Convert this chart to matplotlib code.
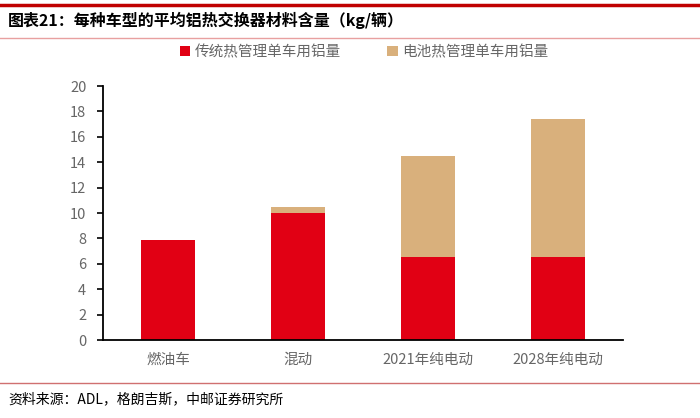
import matplotlib
matplotlib.use('Agg')
import matplotlib.pyplot as plt
import numpy as np

plt.rcParams['font.family'] = ['Noto Sans CJK SC', 'DejaVu Sans']

categories = ['燃油车', '混动', '2021年纯电动', '2028年纯电动']
traditional = [7.9, 10.0, 6.5, 6.5]
battery = [0.0, 0.5, 8.0, 10.9]
series_names = ['传统热管理单车用铝量', '电池热管理单车用铝量']
y_ticks = [0, 2, 4, 6, 8, 10, 12, 14, 16, 18, 20]

title = '图表21：每种车型的平均铝热交换器材料含量（kg/辆）'
source = '资料来源：ADL，格朗吉斯，中邮证券研究所'

red = '#E10014'
tan = '#D9B07C'
gray = '#666666'

fig = plt.figure(figsize=(7, 4.18), dpi=100)
ax = fig.add_axes([103 / 700, 78 / 418, 520 / 700, 254 / 418])

x = np.arange(len(categories))
ax.bar(x, traditional, width=0.41, color=red, label=series_names[0])
ax.bar(x, battery, width=0.41, bottom=traditional, color=tan, label=series_names[1])

ax.set_xlim(-0.5, len(categories) - 0.5)
ax.set_ylim(0, 20)
ax.set_yticks(y_ticks)
ax.set_xticks(x)
ax.set_xticklabels(categories, color=gray, fontsize=10.5)
ax.tick_params(axis='y', labelcolor=gray, labelsize=10.5, length=4, width=1.2, direction='out', pad=8)
ax.tick_params(axis='x', length=0, pad=9)
for s in ['top', 'right']:
    ax.spines[s].set_visible(False)
for s in ['left', 'bottom']:
    ax.spines[s].set_linewidth(1.3)
    ax.spines[s].set_color('black')

leg = fig.legend(loc='center', bbox_to_anchor=(0.52, 1 - 52 / 418), ncol=2, frameon=False,
                 fontsize=10.5, handlelength=0.7, handleheight=0.7, handletextpad=0.3,
                 columnspacing=3.2)
for t in leg.get_texts():
    t.set_color(gray)

# header and footer
fig.add_artist(plt.Line2D([0, 1], [1 - 5 / 418, 1 - 5 / 418], color='#C00000', lw=2.5))
fig.text(8 / 700, 1 - 20 / 418, title, fontsize=11.5, fontweight='bold', va='center', ha='left')
fig.add_artist(plt.Line2D([0, 1], [1 - 38 / 418, 1 - 38 / 418], color='#E8A0A0', lw=1))
fig.add_artist(plt.Line2D([0, 1], [1 - 383 / 418, 1 - 383 / 418], color='#D07070', lw=1))
fig.text(8 / 700, 1 - 399 / 418, source, fontsize=10, va='center', ha='left')

fig.savefig('out.png', dpi=100)
